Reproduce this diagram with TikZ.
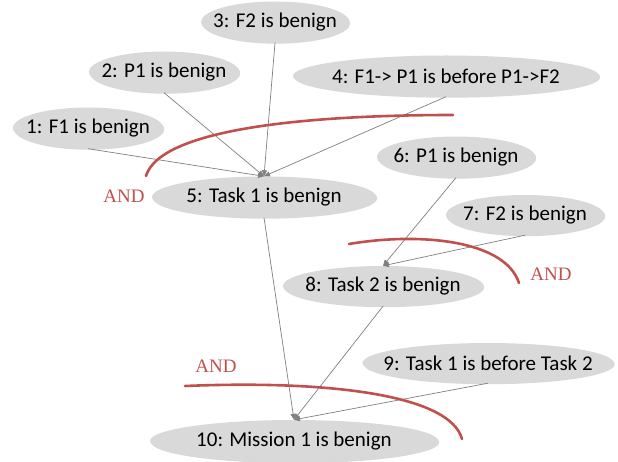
\documentclass[tikz,border=0pt]{standalone}
\usepackage{fontspec}
\setmainfont{Carlito}
\newfontfamily\andfont{Liberation Serif}
\usetikzlibrary{shapes.geometric,arrows.meta,shadows}
\definecolor{ellfill}{HTML}{D9D9D9}
\definecolor{edgegray}{HTML}{7F7F7F}
\definecolor{andred}{HTML}{C0504D}
\newcommand{\clmtext}[1]{\makebox[0pt][c]{#1}}
\begin{document}
\begin{tikzpicture}[x=1pt,y=-1pt,
  claim/.style={ellipse, fill=ellfill, inner sep=0pt, font=\fontsize{21}{22}\selectfont,
    drop shadow={shadow xshift=1.2pt, shadow yshift=-1.2pt, opacity=0.25, fill=black!60}},
  link/.style={draw=edgegray, line width=0.7pt, -{Triangle[width=5pt,length=6pt]}},
  andarc/.style={draw=andred, line width=2.6pt, line cap=round},
  andlabel/.style={text=andred, font=\andfont\fontsize{19}{20}\selectfont, inner sep=0pt}]
\useasboundingbox (0,0) rectangle (618,462);
\node[claim, minimum width=150pt, minimum height=41pt] (n1) at (88,128) {\clmtext{1: F1 is benign}};
\node[claim, minimum width=150pt, minimum height=41pt] (n2) at (164,72) {\clmtext{2: P1 is benign}};
\node[claim, minimum width=148pt, minimum height=41pt] (n3) at (275,22) {\clmtext{3: F2 is benign}};
\node[claim, minimum width=306pt, minimum height=41pt] (n4) at (446,76) {\clmtext{4: F1-> P1 is before P1->F2}};
\node[claim, minimum width=224pt, minimum height=41pt] (n5) at (264,197) {\clmtext{5: Task 1 is benign}};
\node[claim, minimum width=158pt, minimum height=41pt] (n6) at (456,157) {\clmtext{6: P1 is benign}};
\node[claim, minimum width=158pt, minimum height=40pt] (n7) at (525,215) {\clmtext{7: F2 is benign}};
\node[claim, minimum width=200pt, minimum height=40pt] (n8) at (383,286) {\clmtext{8: Task 2 is benign}};
\node[claim, minimum width=251pt, minimum height=40pt] (n9) at (488,363) {\clmtext{9: Task 1 is before Task 2}};
\node[claim, minimum width=288pt, minimum height=42pt] (n10) at (294,441) {\clmtext{10: Mission 1 is benign}};

\draw[link] (n1.south) -- (n5.north);
\draw[link] (n2.south) -- (n5.north);
\draw[link] (n3.south) -- (n5.north);
\draw[link] (n4.south) -- (n5.north);
\draw[link] (n6.south) -- (n8.north);
\draw[link] (n7.south) -- (n8.north);
\draw[link] (n5.south) -- (n10.north);
\draw[link] (n8.south) -- (n10.north);
\draw[link] (n9.south) -- (n10.north);

\draw[andarc] (146,176) .. controls (160,130) and (300,115) .. (453,115);
\draw[andarc] (349,244) .. controls (420,232) and (505,240) .. (519,283);
\draw[andarc] (185,386) .. controls (330,380) and (450,395) .. (462,439);

\node[andlabel] (and1) at (124,196) {AND};
\node[andlabel] (and2) at (551,274) {AND};
\node[andlabel] (and3) at (216,366) {AND};
\end{tikzpicture}
\end{document}
